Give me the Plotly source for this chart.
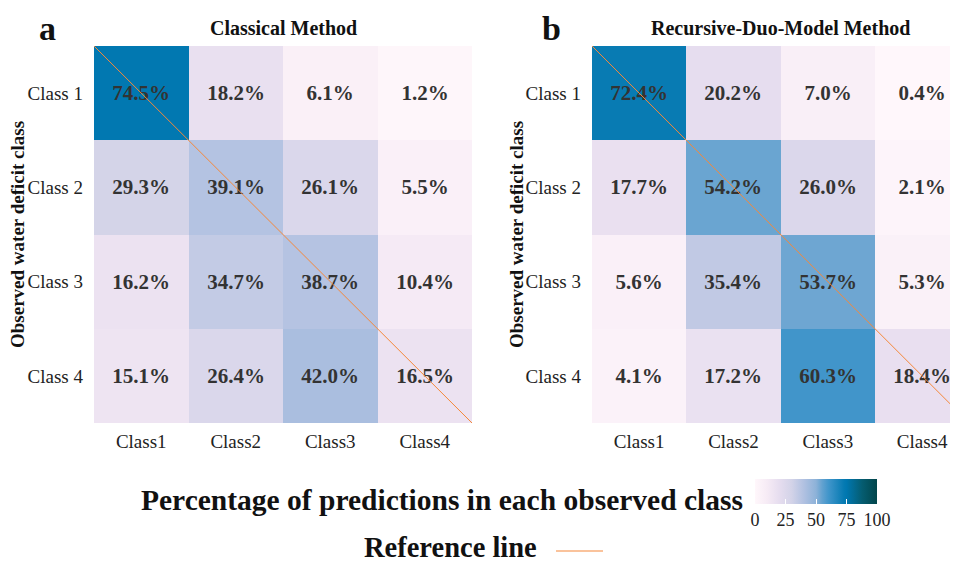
import plotly.graph_objects as go

# predicted classes (columns) and observed classes (rows)
pred_classes = ['Class1', 'Class2', 'Class3', 'Class4']
obs_classes = ['Class 1', 'Class 2', 'Class 3', 'Class 4']

# percentage of predictions in each observed class
classical = [
    [74.5, 18.2, 6.1, 1.2],
    [29.3, 39.1, 26.1, 5.5],
    [16.2, 34.7, 38.7, 10.4],
    [15.1, 26.4, 42.0, 16.5],
]
recursive_duo = [
    [72.4, 20.2, 7.0, 0.4],
    [17.7, 54.2, 26.0, 2.1],
    [5.6, 35.4, 53.7, 5.3],
    [4.1, 17.2, 60.3, 18.4],
]

cbar_ticks = [0, 25, 50, 75, 100]

# the page body has an 8px margin, so the figure is a bit smaller
OFF = 8
W, H = 958 - OFF, 564 - OFF
FONT = 'Liberation Serif'
ORANGE = '#f5883a'


def px(x):
    return (x - OFF) / W


def py(y):
    return 1 - (y - OFF) / H


cscale = [
    [0.0, '#fff7fb'],
    [0.1, '#f6ebf5'],
    [0.2, '#e6ddef'],
    [0.3, '#d3d3e8'],
    [0.4, '#b1c1e1'],
    [0.5, '#8db2d8'],
    [0.55, '#63a2d0'],
    [0.6, '#4296cb'],
    [0.73, '#057ab2'],
    [0.75, '#0077b0'],
    [0.88, '#055c70'],
    [1.0, '#02454a'],
]

idx = list(range(len(pred_classes)))

fig = go.Figure()


def add_panel(z, xa, ya, show_bar):
    txt = [[f'{v:.1f}%' for v in row] for row in z]
    fig.add_trace(go.Heatmap(
        z=z, x=idx, y=idx, text=txt, texttemplate='%{text}',
        textfont=dict(family=FONT, size=21, color='#333333', weight='bold'),
        colorscale=cscale, zmin=0, zmax=100,
        xaxis=xa, yaxis=ya, showscale=show_bar,
        colorbar=dict(
            orientation='h', thickness=25, len=122, lenmode='pixels',
            x=px(816), xanchor='center', y=py(479), yanchor='top',
            tickvals=cbar_ticks, ticks='inside', ticklen=5, tickcolor='white',
            tickfont=dict(family=FONT, size=18, color='#222222'),
            outlinewidth=0, ypad=0, xpad=0,
        ),
    ))
    # diagonal reference line across the whole matrix
    n = len(pred_classes)
    fig.add_trace(go.Scatter(
        x=[-0.5, n - 0.5], y=[-0.5, n - 0.5], mode='lines',
        line=dict(color=ORANGE, width=1), xaxis=xa, yaxis=ya,
        showlegend=False, hoverinfo='skip',
    ))


add_panel(classical, 'x', 'y', False)
add_panel(recursive_duo, 'x2', 'y2', True)

ydom = [py(423), py(46)]
ax_common = dict(showgrid=False, zeroline=False, ticks='', showline=False,
                 tickfont=dict(family=FONT, size=19, color='#222222'))

fig.update_layout(
    width=W, height=H,
    margin=dict(l=0, r=0, t=0, b=0),
    paper_bgcolor='white', plot_bgcolor='white',
    font=dict(family=FONT, color='#111111'),
    xaxis=dict(domain=[px(94), px(472)], range=[-0.5, 3.5],
               tickvals=idx, ticktext=pred_classes, ticklabelstandoff=5, **ax_common),
    yaxis=dict(domain=ydom, range=[3.5, -0.5], tickvals=idx,
               ticktext=obs_classes, ticklabelstandoff=10, **ax_common),
    xaxis2=dict(domain=[px(592), 1.0], range=[-0.5, 3.38], anchor='y2',
                tickvals=idx, ticktext=pred_classes, ticklabelstandoff=5, **ax_common),
    yaxis2=dict(domain=ydom, range=[3.5, -0.5], tickvals=idx, anchor='x2',
                ticktext=obs_classes, ticklabelstandoff=10, **ax_common),
)

ann = []
# panel letters
ann.append(dict(text='<b>a</b>', x=px(47), y=py(29), font=dict(size=34)))
ann.append(dict(text='<b>b</b>', x=px(551), y=py(29), font=dict(size=34)))
# panel titles
ann.append(dict(text='<b>Classical Method</b>', x=px(283), y=py(28), font=dict(size=20)))
ann.append(dict(text='<b>Recursive-Duo-Model Method</b>', x=px(780), y=py(28), font=dict(size=20)))
# y axis titles
for xp in (17, 516):
    ann.append(dict(text='<b>Observed water deficit class</b>', x=px(xp), y=py(235),
                    textangle=-90, font=dict(size=19)))
# legend texts
ann.append(dict(text='<b>Percentage of predictions in each observed class</b>',
                x=px(745), xanchor='right', y=py(500), font=dict(size=29.5)))
ann.append(dict(text='<b>Reference line</b>', x=px(362), xanchor='left',
                y=py(547), font=dict(size=28.5)))
for a in ann:
    a.setdefault('xanchor', 'center')
    a.update(xref='paper', yref='paper', yanchor='middle', showarrow=False)
    a['font'].update(family=FONT, color='#111111')
fig.update_layout(annotations=ann)

# legend key for the reference line
fig.add_shape(type='line', xref='paper', yref='paper', x0=px(556), x1=px(603),
              y0=py(551), y1=py(551), line=dict(color=ORANGE, width=1.2))

fig.write_html("out.html")
